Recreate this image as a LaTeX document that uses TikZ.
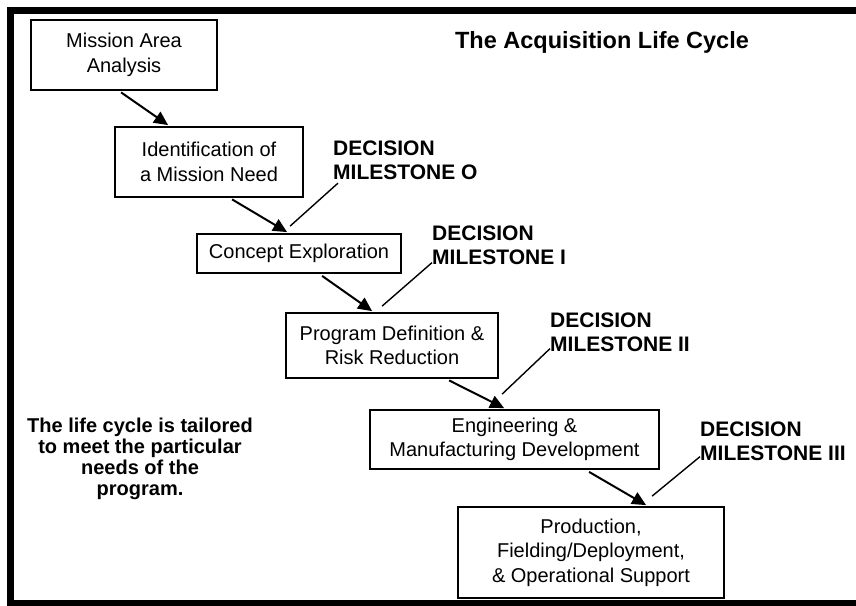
\documentclass[tikz,border=0pt]{standalone}
\usepackage{fontspec}
\setmainfont{Liberation Sans}
\usetikzlibrary{arrows.meta,calc}
\begin{document}
\begin{tikzpicture}[x=1pt,y=-1pt,
  stage/.style={draw, line width=1.8pt, inner sep=0pt, align=center,
    font=\fontsize{20}{24.5}\selectfont},
  milestone/.style={anchor=west, inner sep=0pt, align=left,
    font=\fontsize{21}{24}\selectfont\bfseries},
  flow/.style={line width=2pt, -{Triangle[length=14pt,width=13pt]}},
  tick/.style={line width=1.4pt},
  note/.style={inner sep=0pt, align=center, font=\fontsize{20}{21}\selectfont\bfseries}]
\useasboundingbox (0,0) rectangle (856,605);

% frame
\draw[line width=7pt] (870,10) -- (10.5,10) -- (10.5,603.5) -- (870,603.5);

% title
\node[inner sep=0pt, font=\fontsize{23.5}{26}\selectfont\bfseries] (title) at (602,42)
  {The Acquisition Life Cycle};

% stages
\node[stage, minimum width=186pt, minimum height=70pt] (b1) at (124,55)
  {Mission Area\\Analysis};
\node[stage, minimum width=188pt, minimum height=70pt] (b2) at (209,162)
  {Identification of\\a Mission Need};
\node[stage, minimum width=204pt, minimum height=39pt] (b3) at (299,253.5)
  {Concept Exploration};
\node[stage, minimum width=212pt, minimum height=65pt] (b4) at (392,345.5)
  {Program Definition \&\\Risk Reduction};
\node[stage, minimum width=289pt, minimum height=59pt] (b5) at (514.5,439.5)
  {Engineering \&\\Manufacturing Development};
\node[stage, minimum width=266pt, minimum height=91pt] (b6) at (591,552.5)
  {Production,\\Fielding/Deployment,\\\& Operational Support};

% milestones
\node[milestone] (m0) at (333,160) {DECISION\\MILESTONE O};
\node[milestone] (m1) at (432,245) {DECISION\\MILESTONE I};
\node[milestone] (m2) at (550,332) {DECISION\\MILESTONE II};
\node[milestone] (m3) at (700,441.5) {DECISION\\MILESTONE III};

% note
\node[note] (n) at (140,458.5)
  {The life cycle is tailored\\to meet the particular\\needs of the\\program.};

% flow between stages
\draw[flow] ($(b1.south west)+(91,1.5)$) -- ($(b2.north west)+(54,-1)$);
\draw[flow] ($(b2.south west)+(118,1.5)$) -- ($(b3.north west)+(91,-1)$);
\draw[flow] ($(b3.south west)+(126,2)$) -- ($(b4.north west)+(87,-1)$);
\draw[flow] ($(b4.south west)+(164,1.5)$) -- ($(b5.north west)+(135,-1)$);
\draw[flow] ($(b5.south west)+(220,2)$) -- ($(b6.north west)+(189,-1)$);

% milestone pointers
\draw[tick] ($(m0.south west)+(5,3.5)$) -- ($(b3.north west)+(94,-7)$);
\draw[tick] ($(m1.south west)+(0,-2)$) -- ($(b4.north west)+(97,-6)$);
\draw[tick] ($(m2.south west)+(0,-3)$) -- ($(b5.north west)+(133,-15)$);
\draw[tick] ($(m3.south west)+(0,-4.5)$) -- ($(b6.north west)+(195,-10)$);
\end{tikzpicture}
\end{document}
